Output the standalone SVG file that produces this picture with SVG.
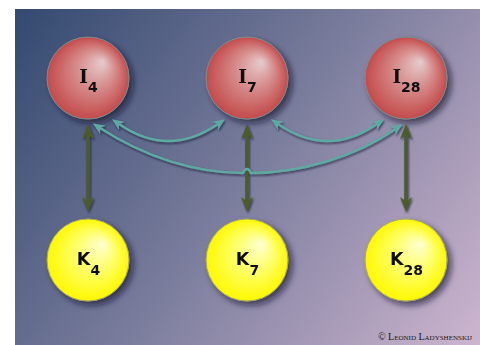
<svg xmlns="http://www.w3.org/2000/svg" width="480" height="345" viewBox="0 0 480 345">
<defs>
<linearGradient id="bg" x1="15" y1="9" x2="480" y2="345" gradientUnits="userSpaceOnUse">
<stop offset="0" stop-color="#33496f"/>
<stop offset="0.5" stop-color="#7b7d9d"/>
<stop offset="1" stop-color="#cdb5cf"/>
</linearGradient>
<radialGradient id="red" cx="0.5" cy="0.5" r="0.5" fx="0.68" fy="0.3">
<stop offset="0" stop-color="#e6cccc"/>
<stop offset="0.4" stop-color="#d99494"/>
<stop offset="1" stop-color="#c44a4a"/>
</radialGradient>
<radialGradient id="yel" cx="0.5" cy="0.5" r="0.5" fx="0.68" fy="0.3">
<stop offset="0" stop-color="#ffffd2"/>
<stop offset="0.45" stop-color="#ffff70"/>
<stop offset="1" stop-color="#fff800"/>
</radialGradient>
<filter id="sh" x="-30%" y="-30%" width="170%" height="170%">
<feDropShadow dx="4" dy="4" stdDeviation="3" flood-color="#15152a" flood-opacity="0.65"/>
</filter>
<filter id="lsh" x="-10%" y="-10%" width="120%" height="130%">
<feDropShadow dx="1" dy="1.5" stdDeviation="0.8" flood-color="#15152a" flood-opacity="0.7"/>
</filter>
<marker id="ta" viewBox="0 0 12 10" refX="3.5" refY="5" markerWidth="12" markerHeight="10" markerUnits="userSpaceOnUse" orient="auto-start-reverse">
<path d="M0,0 L12,5 L0,10 L3.5,5 Z" fill="#5fa9a5"/>
</marker>
<marker id="ga" viewBox="0 0 15 12" refX="4.5" refY="6" markerWidth="15" markerHeight="12" markerUnits="userSpaceOnUse" orient="auto-start-reverse">
<path d="M0,0 L15,6 L0,12 L4.5,6 Z" fill="#4b5c2c"/>
</marker>
<style>
.ic{fill:url(#red);stroke:#7d8c8c;stroke-width:1}
.kc{fill:url(#yel);stroke:#a8a860;stroke-width:1}
.lbl{font-family:"DejaVu Sans",Verdana,sans-serif;font-weight:bold;font-size:17.5px;fill:#111}
.ser{font-family:"DejaVu Serif",serif;font-size:18.5px}
.sub{font-size:14px}
.t{fill:none;stroke:#5fa9a5;stroke-width:2.5;marker-start:url(#ta);marker-end:url(#ta)}
.g{fill:none;stroke:#4b5c2c;stroke-width:3.5;marker-start:url(#ga);marker-end:url(#ga)}
</style>
</defs>
<rect x="0" y="0" width="480" height="345" fill="#ffffff"/>
<rect x="15" y="9" width="465" height="336" fill="url(#bg)"/>
<g id="I4" filter="url(#sh)"><circle class="ic" cx="88" cy="78" r="41"/><text class="lbl" x="88.5" y="83" text-anchor="middle"><tspan class="ser">I</tspan><tspan class="sub" dy="9">4</tspan></text></g>
<g id="I7" filter="url(#sh)"><circle class="ic" cx="247" cy="78" r="41"/><text class="lbl" x="247.5" y="83" text-anchor="middle"><tspan class="ser">I</tspan><tspan class="sub" dy="9">7</tspan></text></g>
<g id="I28" filter="url(#sh)"><circle class="ic" cx="406" cy="78" r="41"/><text class="lbl" x="406.5" y="83" text-anchor="middle"><tspan class="ser">I</tspan><tspan class="sub" dy="9">28</tspan></text></g>
<g id="K4" filter="url(#sh)"><circle class="kc" cx="88" cy="260" r="41"/><text class="lbl" x="88.5" y="265" text-anchor="middle">K<tspan class="sub" dy="10">4</tspan></text></g>
<g id="K7" filter="url(#sh)"><circle class="kc" cx="247" cy="260" r="41"/><text class="lbl" x="247.5" y="265" text-anchor="middle">K<tspan class="sub" dy="10">7</tspan></text></g>
<g id="K28" filter="url(#sh)"><circle class="kc" cx="406" cy="260" r="41"/><text class="lbl" x="406.5" y="265" text-anchor="middle">K<tspan class="sub" dy="10">28</tspan></text></g>
<g id="connectors" filter="url(#lsh)">
<path class="t" d="M119,124 Q168.5,158 218,124"/>
<path class="t" d="M278,124 Q327.5,158 377,124"/>
<path class="g" d="M88,134.5 L88,201.5"/>
<path class="g" d="M247,134.5 L247,201.5"/>
<path class="g" d="M406,134.5 L406,201.5"/>
<path class="t" d="M100,128 C145,157 195,173 243,173 Q247,165 251,173 C300,173 355,157 395.5,129"/>
</g>
<text x="472" y="340" text-anchor="end" font-family="Liberation Serif, serif" font-size="10" font-variant="small-caps" fill="#1a1a1a">© Leonid Ladyshenskij</text>
</svg>
